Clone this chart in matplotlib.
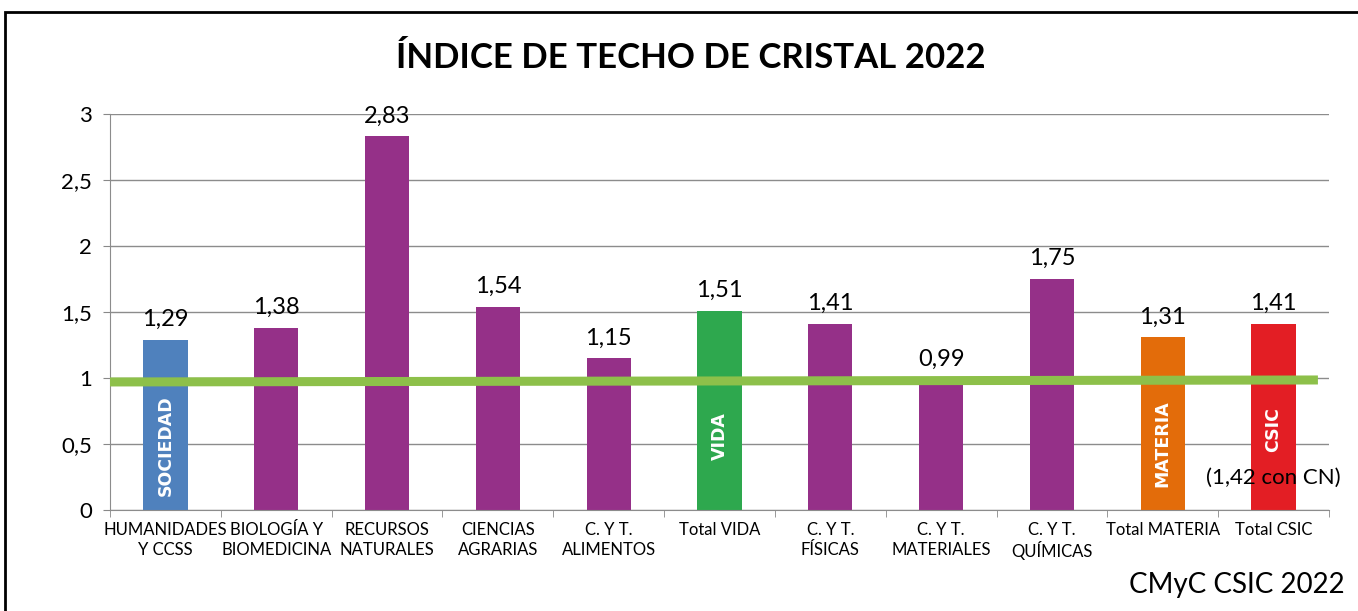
import matplotlib
matplotlib.use("Agg")
import matplotlib.pyplot as plt
from matplotlib.patches import Rectangle
from matplotlib.lines import Line2D
from matplotlib.transforms import blended_transform_factory

categories = ["HUMANIDADES\nY CCSS", "BIOLOGÍA Y\nBIOMEDICINA", "RECURSOS\nNATURALES",
              "CIENCIAS\nAGRARIAS", "C. Y T.\nALIMENTOS", "Total VIDA", "C. Y T.\nFÍSICAS",
              "C. Y T.\nMATERIALES", "C. Y T.\nQUÍMICAS", "Total MATERIA", "Total CSIC"]
values = [1.29, 1.38, 2.83, 1.54, 1.15, 1.51, 1.41, 0.99, 1.75, 1.31, 1.41]
value_labels = ["1,29", "1,38", "2,83", "1,54", "1,15", "1,51", "1,41", "0,99", "1,75", "1,31", "1,41"]
colors = ["#4F81BD", "#953088", "#953088", "#953088", "#953088", "#2EA84E",
          "#953088", "#953088", "#953088", "#E36C0A", "#E31E24"]
inner_labels = {0: ("SOCIEDAD", 0.485), 5: ("VIDA", 0.56), 9: ("MATERIA", 0.50), 10: ("CSIC", 0.61)}
yticks = [0, 0.5, 1, 1.5, 2, 2.5, 3]
ytick_labels = ["0", "0,5", "1", "1,5", "2", "2,5", "3"]
reference_level = 0.98

plt.rcParams['font.family'] = ['Lato', 'DejaVu Sans']

fig = plt.figure(figsize=(13.58, 6.11), dpi=100)
ax = fig.add_axes([110/1358, 101/611, 1219/1358, 396/611])

x = list(range(len(categories)))
ax.bar(x, values, width=0.4, color=colors, zorder=2)
ax.set_xlim(-0.5, len(categories) - 0.5)
ax.set_ylim(0, 3)
ax.set_yticks(yticks)
ax.set_yticklabels(ytick_labels, fontsize=16)
ax.set_xticks(x)
ax.set_xticklabels([""] * len(categories))
ax.tick_params(axis='x', length=0)
ax.tick_params(axis='y', length=5, color="#888888", pad=8)
ax.set_xticks([i - 0.5 for i in range(len(categories) + 1)], minor=True)
ax.tick_params(axis='x', which='minor', length=5, color="#888888")

# category labels, line by line so that accents do not shift rows
trans = blended_transform_factory(ax.transData, ax.transAxes)
row_y = [-20/396, -40/396]
for xi, cat in zip(x, categories):
    for r, line in enumerate(cat.split("\n")):
        ax.text(xi, row_y[r], line, transform=trans, ha='center', va='center', fontsize=12)

ax.grid(axis='y', color="#8C8C8C", linewidth=1, zorder=0)
for s in ['top', 'right']:
    ax.spines[s].set_visible(False)
ax.spines['left'].set_color("#8C8C8C")
ax.spines['bottom'].set_color("#8C8C8C")

for xi, v, lab in zip(x, values, value_labels):
    ax.annotate(lab, (xi, v), xytext=(0, 7), textcoords='offset points',
                ha='center', va='bottom', fontsize=17, zorder=4)

for i, (txt, yy) in inner_labels.items():
    ax.text(i, yy, txt, rotation=90, ha='center', va='center', color='white',
            fontsize=12.5, fontweight='bold', family=['DejaVu Sans'], zorder=4)

ax.add_line(Line2D([-0.52, 10.4], [reference_level - 0.01, reference_level + 0.005],
                   color="#8DC04A", linewidth=6.5, zorder=3, solid_capstyle='butt'))

ax.text(10.0, 0.24, "(1,42 con CN)", ha='center', va='center', fontsize=16, zorder=5)

fig.text(691/1358, 1 - 58/611, "ÍNDICE DE TECHO DE CRISTAL 2022", ha='center', va='center',
         fontsize=25, fontweight='bold')
fig.text(1345/1358, 1 - 585/611, "CMyC CSIC 2022", ha='right', va='center', fontsize=20)

fig.add_artist(Rectangle((5/1358, -0.1), 1.2, 1 - 12/611 + 0.1, transform=fig.transFigure,
                         fill=False, edgecolor='black', linewidth=2))

fig.savefig("out.png", dpi=100)
